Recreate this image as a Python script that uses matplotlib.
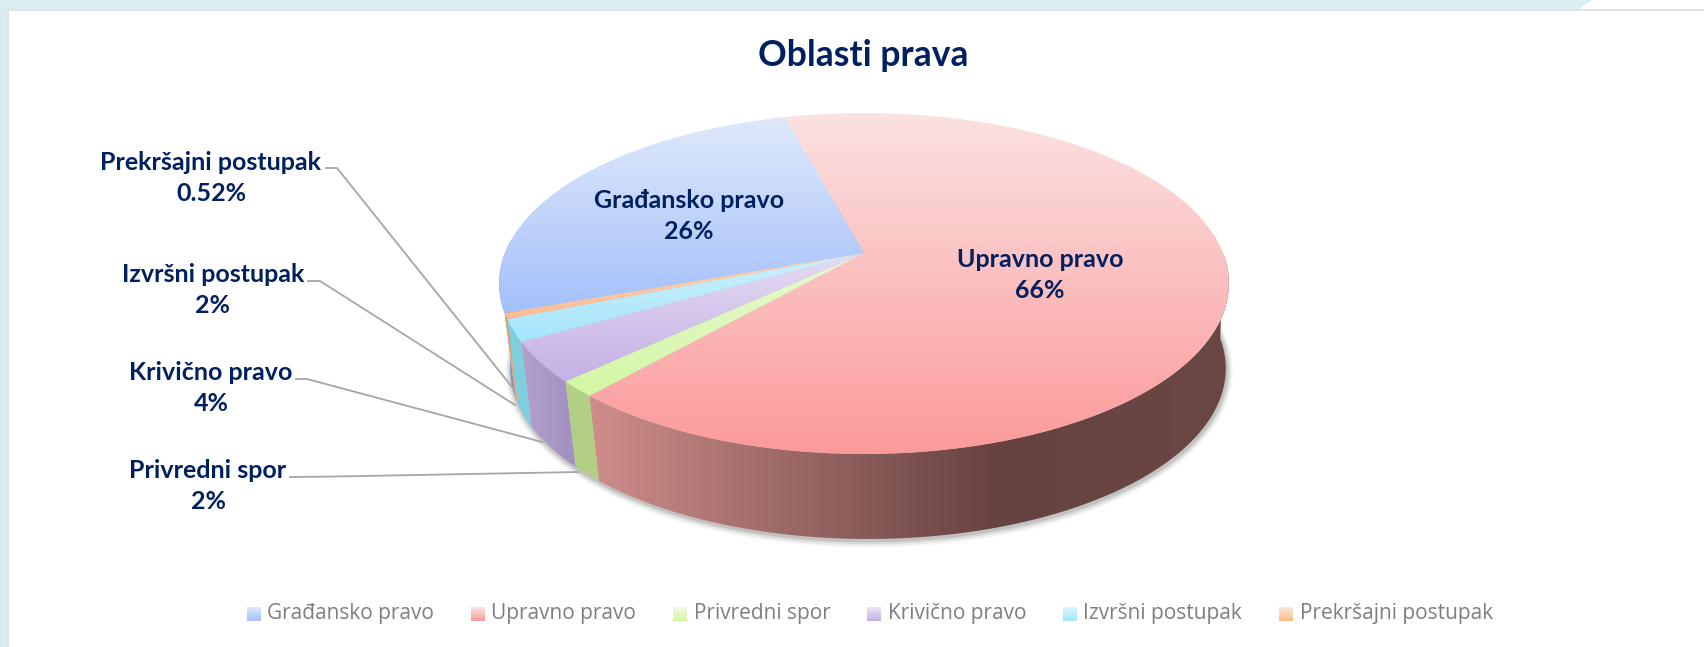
import numpy as np
import matplotlib
matplotlib.use("Agg")
import matplotlib.pyplot as plt
from matplotlib.colors import LinearSegmentedColormap
from matplotlib.patches import Polygon, Rectangle, Patch
from matplotlib.legend_handler import HandlerBase

title = "Oblasti prava"
categories = ["Građansko pravo", "Upravno pravo", "Privredni spor",
              "Krivično pravo", "Izvršni postupak", "Prekršajni postupak"]
values = [26.4, 65.6, 1.5, 3.8, 2.1, 0.52]
value_labels = ["26%", "66%", "2%", "4%", "2%", "0.52%"]

top_light = ["#e0e9fb", "#fbe2e2", "#eef9dc", "#ece4f5", "#dcf3fb", "#fbe6da"]
top_dark = ["#a2c0fa", "#fc9a9a", "#d2f7a2", "#c4b0e6", "#a4e6fb", "#ffb98a"]
wall_light = ["#7f95c4", "#cf8d8a", "#b3cf85", "#b3a0cc", "#7fcfdf", "#e8a470"]
wall_dark = ["#7f95c4", "#664240", "#b3cf85", "#a08fc0", "#7fcfdf", "#e8a470"]

W, H = 1704, 647
fig = plt.figure(figsize=(W / 100, H / 100), dpi=100, facecolor="white")
ax = fig.add_axes([0, 0, 1, 1])
ax.set_xlim(0, W)
ax.set_ylim(H, 0)
ax.axis("off")

# page frame
ax.add_patch(Polygon([(0, 0), (1592, 0), (1579, 9), (7.5, 9), (7.5, H), (0, H)],
                     fc="#daedf3", ec="none"))
ax.plot([8, 8, W], [H, 10, 10], color="#e2e2e2", lw=1.4)


def project(theta, cx, apex, R, S, k=0.179):
    """Clockwise angle from north on the disc -> perspective screen point."""
    u, v = np.sin(np.radians(theta)), np.cos(np.radians(theta))
    d = 1 + k * v
    return cx + R * u / d, apex - S * v / d


TOP = dict(cx=864, apex=253, R=359, S=165)
BOT = dict(cx=868, apex=338, R=352, S=165)


def gradient(c0, c1, extent, horizontal, clip, z):
    cmap = LinearSegmentedColormap.from_list("g", [c0, c1])
    g = np.linspace(0, 1, 256)
    g = g.reshape(1, -1) if horizontal else g.reshape(-1, 1)
    im = ax.imshow(g, cmap=cmap, extent=extent, aspect="auto", zorder=z,
                   origin="upper" if not horizontal else "lower",
                   interpolation="bilinear")
    im.set_clip_path(clip)


fracs = np.array(values) / np.sum(values) * 360
start = 250.0
edges = start + np.concatenate([[0], np.cumsum(fracs)])

# soft shadow below the wall
t = np.linspace(0, 360, 400)
for grow, a in [(6, 0.04), (4.5, 0.07), (3, 0.10), (1.5, 0.16)]:
    x, y = project(t, BOT["cx"] + 1, BOT["apex"] + 1.5, BOT["R"] + grow, BOT["S"] + grow)
    ax.fill(x, y, color="#4a4a4a", alpha=a, lw=0, zorder=1)

# walls: only the part of the rim that faces the viewer
for i in range(len(values)):
    t = np.linspace(edges[i], edges[i + 1], 480)
    t = t[(t % 360 >= 90) & (t % 360 <= 275)]
    if t.size < 2:
        continue
    xt, yt = project(t, **TOP)
    xb, yb = project(t, **BOT)
    poly = np.r_[np.c_[xt, yt], np.c_[xb, yb][::-1]]
    p = Polygon(poly, closed=True, transform=ax.transData, fc="none", ec="none")
    ax.add_patch(p)
    x0, x1 = poly[:, 0].min(), poly[:, 0].max()
    y0, y1 = poly[:, 1].min(), poly[:, 1].max()
    if i == 1:
        dark_from = 1000
        cmap = LinearSegmentedColormap.from_list(
            "w", [(0, wall_light[i]), ((dark_from - x0) / (x1 - x0), wall_dark[i]),
                  (1, "#6a4644")])
        im = ax.imshow(np.linspace(0, 1, 512).reshape(1, -1), cmap=cmap,
                       extent=[x0, x1, y1, y0], aspect="auto", zorder=2)
        im.set_clip_path(p)
    else:
        gradient(wall_light[i], wall_dark[i], [x0, x1, y1, y0], True, p, 2)

# top faces
for i in range(len(values)):
    t = np.linspace(edges[i], edges[i + 1], 200)
    xt, yt = project(t, **TOP)
    poly = np.r_[[[TOP["cx"], TOP["apex"]]], np.c_[xt, yt]]
    p = Polygon(poly, closed=True, transform=ax.transData, fc="none", ec="none")
    ax.add_patch(p)
    x0, x1 = poly[:, 0].min() - 1, poly[:, 0].max() + 1
    y0, y1 = poly[:, 1].min() - 1, poly[:, 1].max() + 1
    if i in (2, 3, 4, 5):  # thin slices share the vertical shading of the disc
        y0 = 225
    gradient(top_light[i], top_dark[i], [x0, x1, y1, y0], False, p, 3)
ax.set_xlim(0, W)
ax.set_ylim(H, 0)

# leader lines
leaders = [
    [(326, 168), (337, 168), (512, 387)],
    [(308, 281), (320, 281), (515, 405)],
    [(296, 379), (307, 379), (542, 442)],
    [(290, 477), (330, 476.6), (578, 472)],
]
for pts in leaders:
    xs, ys = zip(*pts)
    ax.plot(xs, ys, color="#a6a6a6", lw=1.3, zorder=1.5, solid_joinstyle="miter")

NAVY = "#002060"
FONT = "Lato"
ax.text(863, 56, title, ha="center", va="center", fontsize=25.6, fontweight="bold",
        color=NAVY, family=FONT)

pos = {0: (689, 216), 1: (1040, 275), 5: (211, 178), 4: (213, 290), 3: (211, 388), 2: (208, 486)}
for i, (x, y) in pos.items():
    ax.text(x, y, f"{categories[i]}\n{value_labels[i]}", ha="center", va="center",
            multialignment="center", fontsize=18, fontweight="bold", color=NAVY,
            family=FONT, linespacing=1.44, zorder=6)


class GradHandler(HandlerBase):
    def create_artists(self, legend, orig, xd, yd, w, h, fs, trans):
        c0, c1 = orig.get_gid().split("|")
        cmap = LinearSegmentedColormap.from_list("l", [c0, c1])
        n = 10
        side = 14 * 0.72
        out = []
        for j in range(n):
            out.append(Rectangle((w - side, -yd - 2 + side * (1 - (j + 1) / n)), side, side / n + 0.2,
                                 fc=cmap(j / (n - 1)), ec="none", transform=trans))
        return out


handles = []
for i, c in enumerate(categories):
    h = Patch(label=c)
    h.set_gid(f"{top_light[i]}|{top_dark[i]}")
    handles.append(h)
ax.legend(handles=handles, ncol=6, loc="center", bbox_to_anchor=(868 / W, 1 - 613 / H),
          bbox_transform=ax.transAxes, frameon=False,
          handler_map={Patch: GradHandler()}, handlelength=0.85, handletextpad=0.3,
          columnspacing=1.6, prop={"family": "Open Sans", "size": 15},
          labelcolor="#7f7f7f")

fig.savefig("out.png", dpi=100, facecolor="white")
